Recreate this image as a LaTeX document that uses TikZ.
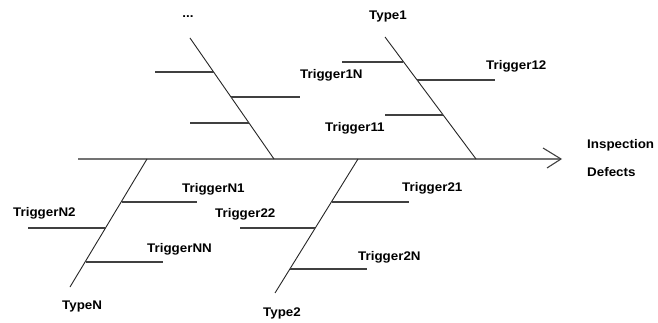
\documentclass[tikz,border=0pt]{standalone}
\usepackage{fontspec}
\setmainfont{Liberation Sans}[FakeStretch=1.07]
\begin{document}
\begin{tikzpicture}[x=1pt,y=-1pt,
  lbl/.style={anchor=west,inner sep=0pt,font=\fontsize{12.5}{14}\selectfont\bfseries,text=black},
  spine/.style={draw=black!55,line width=1.5pt},
  bone/.style={draw=black!85,line width=0.9pt},
  twig/.style={draw=black!75,line width=1.1pt},
  chevron/.style={draw=black!75,line width=1.1pt}]
\fill[white] (0,0) rectangle (658,323);
\path[use as bounding box] (0,0) rectangle (658,323);
% spine
\coordinate (s0) at (78,159);
\coordinate (s1) at (561,159);
\coordinate (h1) at (543,148);
\coordinate (h2) at (547,168);
\draw[spine] (s0) -- (s1);
\draw[chevron] (h1) -- (s1) -- (h2);
% bone "..."
\coordinate (a0) at (190,38); \coordinate (a1) at (274,159);
\draw[bone] (a0) -- (a1);
\coordinate (a1p) at (213.5,72); \coordinate (a1q) at (155,72);
\coordinate (a2p) at (231,97); \coordinate (a2q) at (300,97);
\coordinate (a3p) at (249,123); \coordinate (a3q) at (190,123);
\draw[twig] (a1p) -- (a1q);
\draw[twig] (a2p) -- (a2q);
\draw[twig] (a3p) -- (a3q);
% bone Type1
\coordinate (b0) at (385,37); \coordinate (b1) at (476,159);
\draw[bone] (b0) -- (b1);
\coordinate (b1p) at (403,62); \coordinate (b1q) at (342,62);
\coordinate (b2p) at (417,80); \coordinate (b2q) at (495,80);
\coordinate (b3p) at (443,115); \coordinate (b3q) at (385,115);
\draw[twig] (b1p) -- (b1q);
\draw[twig] (b2p) -- (b2q);
\draw[twig] (b3p) -- (b3q);
% bone TypeN
\coordinate (c0) at (147,159); \coordinate (c1) at (70,287);
\draw[bone] (c0) -- (c1);
\coordinate (c1p) at (121.5,202); \coordinate (c1q) at (197,202);
\coordinate (c2p) at (105.5,228); \coordinate (c2q) at (28,228);
\coordinate (c3p) at (85.5,262); \coordinate (c3q) at (163,262);
\draw[twig] (c1p) -- (c1q);
\draw[twig] (c2p) -- (c2q);
\draw[twig] (c3p) -- (c3q);
% bone Type2
\coordinate (d0) at (358,159); \coordinate (d1) at (275,293);
\draw[bone] (d0) -- (d1);
\coordinate (d1p) at (331.5,202); \coordinate (d1q) at (409,202);
\coordinate (d2p) at (315,228); \coordinate (d2q) at (240,228);
\coordinate (d3p) at (290,269); \coordinate (d3q) at (367,269);
\draw[twig] (d1p) -- (d1q);
\draw[twig] (d2p) -- (d2q);
\draw[twig] (d3p) -- (d3q);
% labels
\node[lbl,anchor=center] (tdots) at (188,17) {...};
\node[lbl] (t1) at (369,16) {Type1};
\node[lbl] (t1n) at (300,75) {Trigger1N};
\node[lbl] (t12) at (486,66) {Trigger12};
\node[lbl] (t11) at (325,128) {Trigger11};
\node[lbl] (insp) at (587,145) {Inspection};
\node[lbl] (defe) at (587,172) {Defects};
\node[lbl] (tn1) at (182,189) {TriggerN1};
\node[lbl] (tn2) at (13,213) {TriggerN2};
\node[lbl] (t22) at (215,214) {Trigger22};
\node[lbl] (t21) at (402,188) {Trigger21};
\node[lbl] (tnn) at (147,249) {TriggerNN};
\node[lbl] (t2n) at (358,257) {Trigger2N};
\node[lbl] (tyn) at (62,306) {TypeN};
\node[lbl] (ty2) at (263,313) {Type2};
\end{tikzpicture}
\end{document}
